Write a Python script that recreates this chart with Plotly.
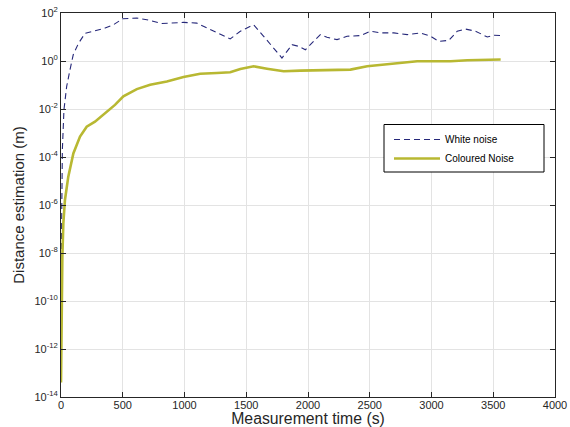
import plotly.graph_objects as go

# White noise (dashed navy)
white_t = [0, 2, 5, 11, 24, 46, 73, 99, 140, 194, 262, 357, 424, 500, 614, 695, 816, 911, 992,
           1100, 1181, 1262, 1370, 1452, 1560, 1641, 1722, 1789, 1830, 1871, 1925, 1979, 2046,
           2100, 2154, 2235, 2316, 2425, 2506, 2587, 2695, 2803, 2911, 2992, 3060, 3141, 3208,
           3276, 3357, 3452, 3506, 3560]
white_log = [-9.5, -8.5, -6.6, -3.7, -2.03, -1.06, -0.36, 0.26, 0.72, 1.15, 1.24, 1.375, 1.51,
             1.76, 1.79, 1.72, 1.56, 1.58, 1.61, 1.58, 1.375, 1.17, 0.92, 1.24, 1.51, 1.03, 0.54,
             0.125, 0.40, 0.68, 0.61, 0.47, 0.82, 1.10, 0.99, 0.89, 1.03, 1.06, 1.24, 1.17, 1.17,
             1.10, 1.17, 1.03, 0.82, 0.86, 1.24, 1.33, 1.24, 1.0, 1.07, 1.06]

# Coloured noise (thick olive)
col_t = [0, 5, 11, 19, 32, 59, 100, 154, 208, 275, 356, 437, 505, 614, 722, 857, 992, 1127,
         1262, 1370, 1452, 1560, 1668, 1803, 1938, 2073, 2208, 2344, 2479, 2614, 2749, 2884,
         3019, 3154, 3290, 3425, 3560]
col_log = [-13.4, -10.2, -8.15, -6.76, -5.79, -4.82, -3.85, -3.15, -2.74, -2.53, -2.18, -1.83,
           -1.47, -1.17, -0.99, -0.85, -0.67, -0.53, -0.5, -0.47, -0.33, -0.22, -0.32, -0.43,
           -0.40, -0.39, -0.40, -0.36, -0.22, -0.15, -0.08, -0.01, -0.01, -0.01, 0.03, 0.06, 0.06]

x_ticks = [0, 500, 1000, 1500, 2000, 2500, 3000, 3500, 4000]
y_exps = [-14, -12, -10, -8, -6, -4, -2, 0, 2]

white_v = [10 ** e for e in white_log]
col_v = [10 ** e for e in col_log]

font = "Liberation Sans, Arial, Helvetica, sans-serif"
axcol = "#262626"

fig = go.Figure()
fig.add_trace(go.Scatter(x=white_t, y=white_v, mode="lines", name="White noise",
                         line=dict(color="#26287a", width=1.1, dash="6px,4px")))
fig.add_trace(go.Scatter(x=col_t, y=col_v, mode="lines", name="Coloured Noise",
                         line=dict(color="#b8b832", width=2.6)))

# plot-area geometry in page pixels
L, R, T, B = 61, 555, 13, 397
def px(xp):
    return (xp - L) / (R - L)
def py(yp):
    return (B - yp) / (B - T)

fig.add_shape(type="rect", xref="paper", yref="paper",
              x0=px(384), x1=px(544), y0=py(172), y1=py(124.5),
              line=dict(color="black", width=1), fillcolor="white", layer="above")

fig.update_layout(
    width=570, height=427,
    margin=dict(l=L, r=570 - R, t=T, b=427 - B),
    paper_bgcolor="white", plot_bgcolor="white",
    font=dict(family=font, size=11, color=axcol),
    showlegend=True,
    legend=dict(x=px(389), y=py(125), xanchor="left", yanchor="top",
                borderwidth=0, bgcolor="rgba(0,0,0,0)",
                font=dict(size=10, color="#000000"), tracegroupgap=0,
                itemwidth=46),
)
fig.update_xaxes(range=[0, 4000], tickvals=x_ticks, ticktext=[str(v) for v in x_ticks],
                 showgrid=True, gridcolor="#e3e3e3", gridwidth=1, automargin=False,
                 showline=True, linecolor=axcol, linewidth=1, mirror="ticks",
                 ticks="inside", ticklen=5, tickcolor=axcol, zeroline=False,
                 ticklabelstandoff=-2,
                 title=dict(text="Measurement time (s)", font=dict(size=15.8), standoff=2))
fig.update_yaxes(type="log", range=[-14, 2], tickvals=[10 ** e for e in y_exps],
                 ticktext=["10<sup>%d</sup>" % e for e in y_exps], automargin=False,
                 showgrid=True, gridcolor="#e3e3e3", gridwidth=1,
                 showline=True, linecolor=axcol, linewidth=1, mirror="ticks",
                 ticks="inside", ticklen=5, tickcolor=axcol, zeroline=False,
                 title=dict(text="Distance estimation (m)", font=dict(size=15), standoff=6))

fig.write_html("out.html", config={"displayModeBar": False},
               post_script="document.body.style.margin='0';document.body.style.overflow='hidden';")
